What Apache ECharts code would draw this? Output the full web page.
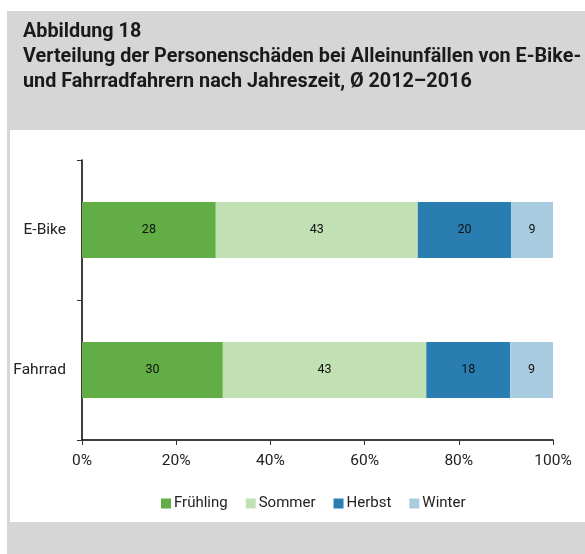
<!DOCTYPE html>
<html>
<head>
<meta charset="utf-8">
<script src="https://cdn.jsdelivr.net/npm/echarts@6/dist/echarts.min.js"></script>
<style>
  html, body { margin: 0; padding: 0; background: #fff; }
  #chart { width: 585px; height: 554px; }
</style>
</head>
<body>
<div id="chart"></div>
<script>
// Kategorien (von oben nach unten)
var categories = ['E-Bike', 'Fahrrad'];
// Anteile in % je Jahreszeit
var fruehling = [28.4, 29.9];
var sommer = [42.9, 43.2];
var herbst = [19.8, 17.8];
var winter = [8.9, 9.1];
var seasonNames = ['Frühling', 'Sommer', 'Herbst', 'Winter'];
var seasonColors = ['#62ad45', '#c1e0b4', '#297db1', '#a9cbe0'];
var seasonData = [fruehling, sommer, herbst, winter];

var labelFont = 'Roboto';

var series = seasonNames.map(function (name, i) {
  return {
    name: name,
    type: 'bar',
    stack: 'total',
    barWidth: 56,
    data: seasonData[i],
    itemStyle: { color: seasonColors[i] },
    label: {
      show: true,
      position: 'inside',
      color: '#111',
      fontFamily: labelFont,
      fontSize: 12.5,
      formatter: function (p) { return Math.round(p.value); }
    }
  };
});

var chart = echarts.init(document.getElementById('chart'));
chart.setOption({
  animation: false,
  graphic: [
    { type: 'rect', z: -10, shape: { x: 7, y: 11, width: 578, height: 543 }, style: { fill: '#d6d6d6' } },
    { type: 'rect', z: -9, shape: { x: 10, y: 130, width: 575, height: 392 }, style: { fill: '#ffffff' } }
  ],
  title: {
    text: 'Abbildung 18\nVerteilung der Personenschäden bei Alleinunfällen von E-Bike-\nund Fahrradfahrern nach Jahreszeit, Ø 2012–2016',
    left: 23,
    top: 20,
    padding: 0,
    textStyle: {
      fontFamily: 'Roboto',
      fontWeight: 'bold',
      fontSize: 19.8,
      lineHeight: 25,
      color: '#1a1a1a'
    }
  },
  legend: {
    data: seasonNames,
    left: 156,
    top: 491,
    icon: 'rect',
    itemWidth: 10,
    itemHeight: 10,
    itemGap: 18,
    textStyle: { fontFamily: labelFont, fontSize: 15, color: '#222', padding: [0, 0, 0, -2] }
  },
  grid: { left: 82, right: 32, top: 160, bottom: 114 },
  xAxis: {
    type: 'value',
    min: 0,
    max: 100,
    interval: 20,
    axisLine: { show: true, lineStyle: { color: '#000', width: 1.5 } },
    axisTick: { show: true, length: 5, lineStyle: { color: '#333' } },
    splitLine: { show: false },
    axisLabel: { formatter: '{value}%', fontFamily: labelFont, fontSize: 15.5, color: '#222', margin: 13 }
  },
  yAxis: {
    type: 'category',
    inverse: true,
    data: categories,
    axisLine: { show: true, lineStyle: { color: '#000', width: 1.5 } },
    axisTick: { show: true, length: 5, lineStyle: { color: '#333' } },
    axisLabel: { fontFamily: labelFont, fontSize: 15.5, color: '#222', margin: 16 }
  },
  series: series
});
</script>
</body>
</html>
